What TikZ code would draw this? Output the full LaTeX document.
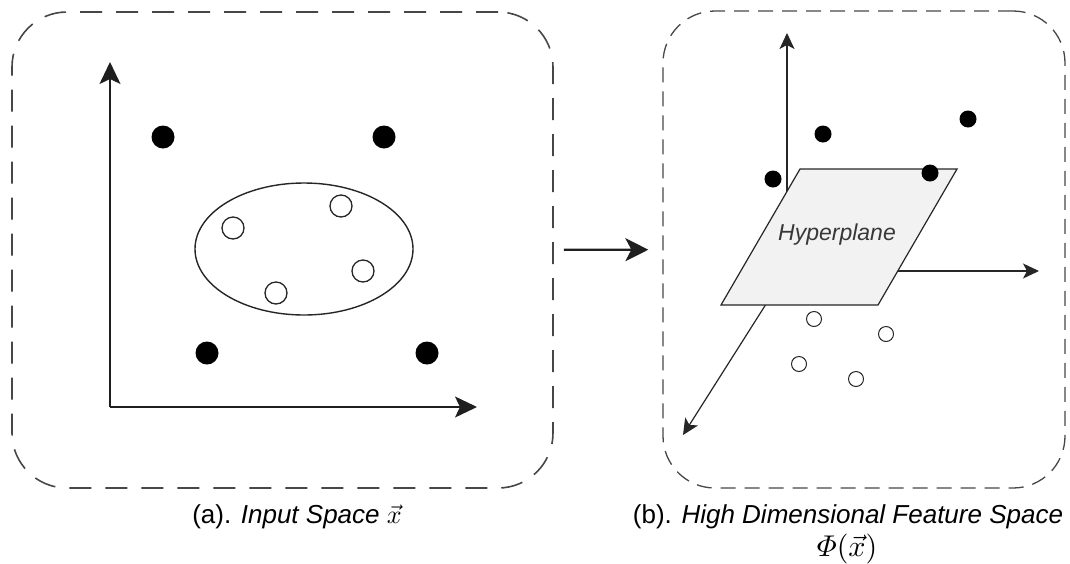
\documentclass[tikz,border=0pt]{standalone}
\usepackage{amsmath}
\usepackage{fontspec}
\setmainfont{Liberation Sans}
\usetikzlibrary{arrows.meta,shapes.geometric}
\newcommand{\capmath}[2][2.6]{\scalebox{#1}{\normalsize$#2$}}

\begin{document}
\begin{tikzpicture}[x=1pt, y=-1pt, every node/.style={font=\fontsize{26}{32}\selectfont}, frm/.style={draw=black!72, inner sep=0pt}, ax/.style={-{Stealth[length=22pt, width=21pt, inset=5pt]}, line width=1.6pt, black!88}, axr/.style={-{Stealth[length=16pt, width=15pt, inset=4pt]}, line width=1.2pt, black!85}, dotf/.style={circle, fill=black, inner sep=0pt}, doto/.style={circle, draw=black!85, fill=white, inner sep=0pt}]
	\useasboundingbox (0,0) rectangle (1070,563);
	% the two frames
	\node[frm, line width=1.6pt, dash pattern=on 22pt off 14pt, rounded corners=55pt, minimum width=541pt, minimum height=476pt] (boxa) at (282.5,250) {};
	\node[frm, line width=1.3pt, dash pattern=on 15pt off 9pt, rounded corners=52pt, minimum width=402pt, minimum height=477pt] (boxb) at (864,249.5) {};
	\draw[-{Stealth[length=23pt, width=23pt, inset=6pt]}, line width=2.4pt, black!88, shorten <=10pt, shorten >=14pt] (boxa) -- (boxb);
	% input space
	\coordinate (oa) at (110,407); \coordinate (ya) at (110,62); \coordinate (xa) at (477,407);
	\draw[ax] (oa) -- (ya); \draw[ax] (oa) -- (xa);
	\node[draw=black!85, line width=1.4pt, ellipse, minimum width=218pt, minimum height=132pt, inner sep=0pt] (cls) at (304,249) {};
	\foreach \p [count=\k] in {(163,137),(384,137),(207,353),(427,353)} {\node[dotf, minimum size=23pt] (pa\k) at \p {};}
	\foreach \p [count=\k] in {(233,228),(341,206),(363,271),(276,293)} {\node[doto, minimum size=22pt, line width=1.3pt] (qa\k) at \p {};}
	% feature space
	\coordinate (ob) at (787,271); \coordinate (yb) at (787,33); \coordinate (xb) at (1039,271); \coordinate (zb) at (683,435);
	\draw[axr] (ob) -- (yb); \draw[axr] (ob) -- (xb); \draw[axr] (ob) -- (zb);
	\draw[line width=1.2pt, black!85, fill=black!5] (800,169) -- (957,169) -- (878,305) -- (721,305) -- cycle;
	\node[font=\fontsize{23}{28}\selectfont\itshape, text=black!78] (hp) at (837,235) {Hyperplane};
	\foreach \p [count=\k] in {(823,134),(968,119),(773,179),(930,173)} {\node[dotf, minimum size=17pt] (pb\k) at \p {};}
	\foreach \p [count=\k] in {(814,319),(886,334),(799,364),(856,379)} {\node[doto, minimum size=15pt, line width=1pt] (qb\k) at \p {};}
	% captions
	\node[anchor=base] (capa) at (297,523) {(a). \textit{Input Space} \capmath{\vec{x}}};
	\node[anchor=base] (capb) at (848,523) {(b). \textit{High Dimensional Feature Space}};
	\node[anchor=base] (capbx) at (847,556) {\capmath[3]{\varPhi(\vec{x})}};
\end{tikzpicture}
\end{document}
